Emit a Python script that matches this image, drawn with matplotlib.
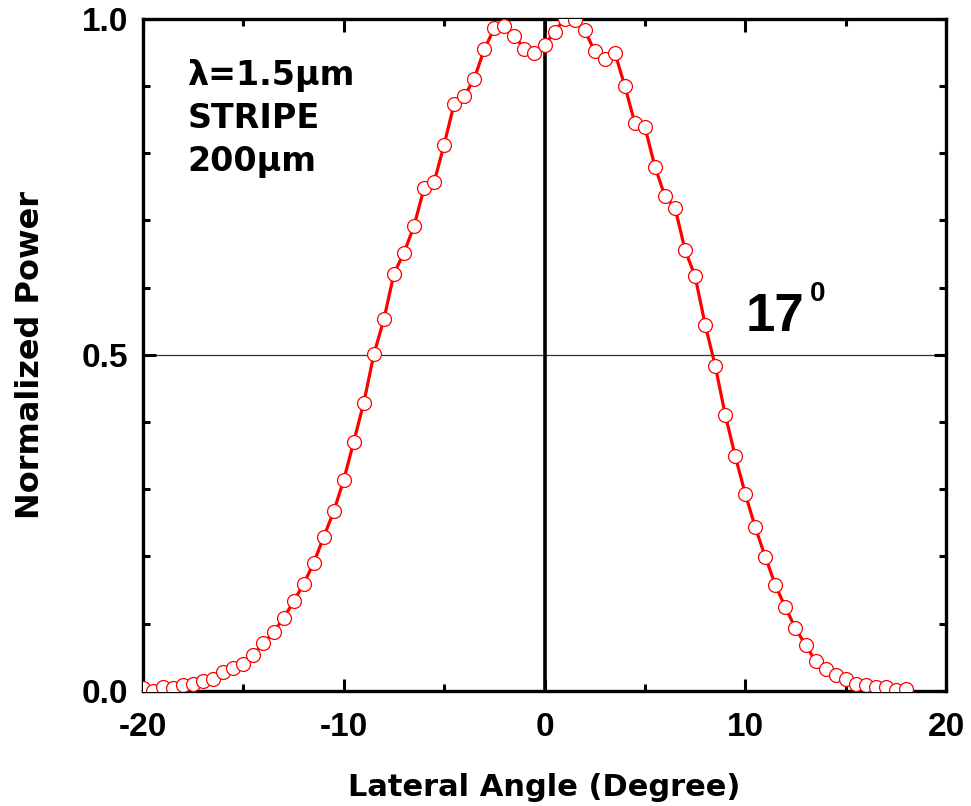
import matplotlib
matplotlib.use("Agg")
import matplotlib.pyplot as plt
from matplotlib.ticker import MultipleLocator

# lateral angle (deg), 0.5 deg steps from -20 to 18
angle = [-20 + 0.5 * i for i in range(77)]
power = [0.004, 0.000, 0.006, 0.004, 0.009, 0.010, 0.015, 0.018, 0.028, 0.034,
         0.040, 0.053, 0.071, 0.087, 0.108, 0.133, 0.159, 0.190, 0.229, 0.267,
         0.314, 0.371, 0.429, 0.501, 0.553, 0.621, 0.652, 0.692, 0.748, 0.757,
         0.813, 0.874, 0.885, 0.911, 0.955, 0.986, 0.989, 0.974, 0.956, 0.950,
         0.961, 0.981, 1.000, 0.998, 0.983, 0.952, 0.940, 0.950, 0.900, 0.845,
         0.839, 0.780, 0.736, 0.719, 0.656, 0.617, 0.545, 0.484, 0.411, 0.349,
         0.293, 0.243, 0.199, 0.157, 0.124, 0.093, 0.068, 0.044, 0.032, 0.023,
         0.017, 0.010, 0.008, 0.005, 0.005, 0.001, 0.003]

xticks = [-20, -10, 0, 10, 20]
yticks = [0.0, 0.5, 1.0]

lab = "DejaVu Sans"
num = ["Liberation Sans", "DejaVu Sans"]

fig = plt.figure(figsize=(9.71, 8.06), dpi=100)
ax = fig.add_axes([0.1473, 0.143, 0.827, 0.8335])

ax.plot(angle, power, color="red", lw=2.3, marker="o", ms=10,
        mfc="white", mec="red", mew=0.9, zorder=3)
ax.axhline(0.5, color="#333333", lw=0.9, zorder=1)
ax.axvline(0, color="black", lw=2.6, zorder=2)

ax.set_xlim(-20, 20)
ax.set_ylim(0, 1)
ax.set_xticks(xticks)
ax.set_yticks(yticks)
ax.xaxis.set_minor_locator(MultipleLocator(5))
ax.yaxis.set_minor_locator(MultipleLocator(0.1))
ax.set_xticklabels(["-20", "-10", "0", "10", "20"], family=num,
                   fontweight="bold", fontsize=24)
ax.set_yticklabels(["0.0", "0.5", "1.0"], family=num,
                   fontweight="bold", fontsize=24)
ax.tick_params(which="both", direction="in", top=True, right=True, width=2.2)
ax.tick_params(which="major", length=9)
ax.tick_params(which="minor", length=5)
ax.tick_params(axis="x", pad=15)
ax.tick_params(axis="y", pad=11)
for s in ax.spines.values():
    s.set_linewidth(2.4)

ax.set_xlabel("Lateral Angle (Degree)", family=lab, fontweight="bold",
              fontsize=22)
ax.xaxis.set_label_coords(0.5, -0.122)
ax.set_ylabel("Normalized Power", family=lab, fontweight="bold", fontsize=23)
ax.yaxis.set_label_coords(-0.121, 0.5)

ax.text(-17.8, 0.94, "\u03bb=1.5\u03bcm\nSTRIPE\n200\u03bcm", family=lab,
        fontweight="bold", fontsize=24, va="top", ha="left", linespacing=1.38)
ax.text(10.0, 0.535, "17", family=num, fontweight="bold", fontsize=38,
        va="baseline", ha="left")
ax.text(13.2, 0.61, "0", family=num, fontweight="bold", fontsize=20,
        va="top", ha="left")

fig.savefig("out.png", dpi=100)
